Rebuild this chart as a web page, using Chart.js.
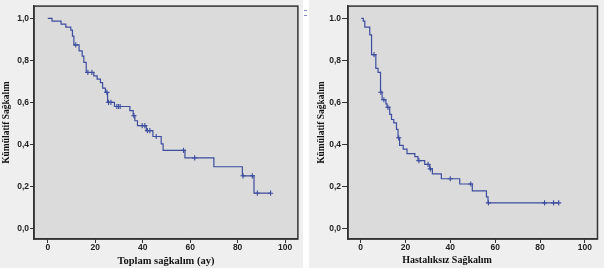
<!DOCTYPE html>
<html>
<head>
<meta charset="utf-8">
<script src="https://cdn.jsdelivr.net/npm/chart.js@4.4.1/dist/chart.umd.min.js"></script>
<style>
  html, body { margin:0; padding:0; background:#ffffff; width:604px; height:268px; overflow:hidden; }
  canvas { position:absolute; top:0; background:#efefef; }
  #c1 { left:0; }
  #c2 { left:309px; }
  .dash { position:absolute; left:304px; width:3px; height:1px; background:#7f86c4; }
</style>
</head>
<body>
<canvas id="c1" width="303" height="268"></canvas>
<canvas id="c2" width="295" height="268"></canvas>
<div class="dash" style="top:10px"></div>
<div class="dash" style="top:15px"></div>
<script>
// ---- Data ----
// Left: Toplam sağkalım (ay) — Kaplan-Meier steps (time of event, survival after event)
const leftTimes = [0, 1.8, 5.6, 7.6, 9.7, 10.4, 11.0, 13.2, 14.5, 15.2, 16.2, 19.4, 20.8, 22.2, 23.1, 24.3, 25.2, 28.1, 34.6, 36.0, 36.7, 37.8, 41.5, 44.3, 47.8, 48.6, 57.8, 70.0, 82.0, 86.9, 94.0];
const leftSurv  = [1.0, 0.986, 0.972, 0.958, 0.944, 0.915, 0.873, 0.845, 0.82, 0.79, 0.742, 0.726, 0.71, 0.694, 0.667, 0.647, 0.60, 0.58, 0.56, 0.536, 0.512, 0.489, 0.465, 0.437, 0.402, 0.371, 0.335, 0.293, 0.25, 0.167, 0.167];
const leftCensTimes = [11.8, 16.9, 18.6, 24.9, 25.6, 26.6, 29.1, 29.8, 30.5, 36.3, 39.8, 40.9, 42.0, 43.0, 45.7, 57.2, 61.9, 82.3, 86.2, 88.3, 93.9];
const leftCensSurv  = [0.873, 0.742, 0.742, 0.647, 0.60, 0.60, 0.58, 0.58, 0.58, 0.536, 0.489, 0.489, 0.465, 0.465, 0.437, 0.371, 0.335, 0.25, 0.25, 0.167, 0.167];

// Right: Hastalıksız Sağkalım
const rightTimes = [0.3, 1.2, 1.9, 4.1, 4.9, 6.8, 7.8, 8.9, 9.6, 11.3, 11.8, 13.0, 13.8, 14.8, 16.0, 16.7, 17.4, 19.0, 20.7, 24.2, 25.6, 28.6, 30.8, 32.0, 36.0, 44.2, 49.8, 56.1, 56.8, 88.4];
const rightSurv  = [1.0, 0.986, 0.958, 0.921, 0.827, 0.761, 0.742, 0.648, 0.612, 0.592, 0.576, 0.542, 0.518, 0.502, 0.471, 0.431, 0.395, 0.377, 0.356, 0.341, 0.322, 0.304, 0.283, 0.259, 0.236, 0.211, 0.178, 0.15, 0.121, 0.121];
const rightCensTimes = [6.0, 9.0, 10.4, 12.2, 17.0, 26.0, 30.1, 31.1, 40.0, 49.1, 57.0, 82.0, 86.0, 88.3];
const rightCensSurv  = [0.827, 0.648, 0.612, 0.576, 0.431, 0.322, 0.304, 0.283, 0.236, 0.211, 0.121, 0.121, 0.121, 0.121];

// Ticks and labels
const xTicks = [0, 20, 40, 60, 80, 100];
const yTicks = [0, 0.2, 0.4, 0.6, 0.8, 1.0];
const yTickLabelsLeft  = ['0,0', '0,2', '0,4', '0,6', '0,8', '1,0'];
const yTickLabelsRight = ['0,0', '0,2', '0,4', '0,6', '0,8', '1.0'];
const leftXTitle = 'Toplam sağkalım (ay)';
const rightXTitle = 'Hastalıksız Sağkalım';
const yTitle = 'Kümülatif Sağkalım';

// ---- Rendering ----
const LINE = '#3e4d9e';
const PLOT_BG = '#dbdbdb';
const AXIS = '#333333';

const zip = (a, b) => a.map((v, i) => ({ x: v, y: b[i] }));

const framePlugin = {
  id: 'frame',
  beforeDraw(chart) {
    const { ctx, chartArea: a } = chart;
    ctx.save();
    ctx.fillStyle = PLOT_BG;
    ctx.fillRect(a.left, a.top, a.right - a.left, a.bottom - a.top);
    ctx.restore();
  },
  afterDraw(chart) {
    const { ctx, chartArea: a } = chart;
    ctx.save();
    ctx.strokeStyle = AXIS;
    ctx.lineWidth = 1.5;
    ctx.strokeRect(a.left, a.top, a.right - a.left, a.bottom - a.top);
    const t = chart.options.plugins.frame;
    if (t && t.text) {
      ctx.fillStyle = '#111';
      ctx.font = t.font;
      ctx.textAlign = 'center';
      ctx.textBaseline = 'middle';
      ctx.fillText(t.text, t.x, t.y);
    }
    ctx.restore();
  }
};

function makeChart(id, o) {
  return new Chart(document.getElementById(id), {
    type: 'line',
    data: {
      datasets: [
        {
          data: zip(o.times, o.surv),
          stepped: 'before',
          borderColor: LINE,
          borderWidth: 1.2,
          pointRadius: 0,
          fill: false,
          tension: 0
        },
        {
          data: zip(o.censT, o.censS),
          showLine: false,
          pointStyle: 'cross',
          pointRadius: 2.6,
          pointBorderColor: LINE,
          pointBorderWidth: 1.1,
          pointBackgroundColor: LINE
        }
      ]
    },
    options: {
      responsive: false,
      animation: false,
      devicePixelRatio: 1,
      layout: { padding: { top: 5, right: o.padRight, left: 0, bottom: 0 } },
      plugins: {
        legend: { display: false },
        tooltip: { enabled: false },
        frame: o.frame
      },
      scales: {
        x: {
          type: 'linear',
          min: o.xMin, max: o.xMax,
          afterBuildTicks: s => { s.ticks = xTicks.map(v => ({ value: v })); },
          afterFit: s => { s.height = 29; },
          ticks: {
            autoSkip: false, maxRotation: 0, padding: 0,
            color: '#222',
            font: { family: 'Liberation Sans', weight: 'bold', size: 8.5 },
            callback: v => String(v)
          },
          grid: { display: true, drawOnChartArea: false, drawTicks: true, tickLength: 4, color: AXIS, lineWidth: 1 },
          border: { display: true, color: AXIS, width: 1.5 },
          title: o.xTitleBuiltin ? {
            display: true, text: o.xTitle, color: '#111',
            font: { family: 'Liberation Serif', weight: 'bold', size: 10.5 },
            padding: { top: 0, bottom: 0 }
          } : { display: false }
        },
        y: {
          type: 'linear',
          min: o.yMin, max: o.yMax,
          afterBuildTicks: s => { s.ticks = yTicks.map(v => ({ value: v })); },
          afterFit: s => { s.width = o.yWidth; },
          ticks: {
            autoSkip: false, padding: 1,
            color: '#222',
            font: { family: 'Liberation Sans', weight: 'bold', size: 8.5 },
            callback: v => o.yLabels[yTicks.findIndex(t => Math.abs(t - v) < 1e-6)]
          },
          grid: { display: true, drawOnChartArea: false, drawTicks: true, tickLength: o.yTick, color: AXIS, lineWidth: 1 },
          border: { display: true, color: AXIS, width: 1.5 },
          title: {
            display: true, text: yTitle, color: '#111',
            font: { family: 'Liberation Serif', weight: 'bold', size: 9.5 },
            padding: { top: o.yTitlePad, bottom: 0 }
          }
        }
      }
    },
    plugins: [framePlugin]
  });
}

makeChart('c1', {
  times: leftTimes, surv: leftSurv, censT: leftCensTimes, censS: leftCensSurv,
  xMin: -5.8, xMax: 105.4, yMin: -0.051, yMax: 1.058,
  yWidth: 34, yTick: 4, yTitlePad: 1, padRight: 1,
  yLabels: yTickLabelsLeft, xTitle: leftXTitle, xTitleBuiltin: true,
  frame: {}
});

makeChart('c2', {
  times: rightTimes, surv: rightSurv, censT: rightCensTimes, censS: rightCensSurv,
  xMin: -5.6, xMax: 105.6, yMin: -0.051, yMax: 1.058,
  yWidth: 39, yTick: 6, yTitlePad: 7, padRight: 6.5,
  yLabels: yTickLabelsRight, xTitle: rightXTitle, xTitleBuiltin: false,
  frame: { text: rightXTitle, x: 138, y: 260.5, font: 'bold 10px "Liberation Serif"' }
});
</script>
</body>
</html>
